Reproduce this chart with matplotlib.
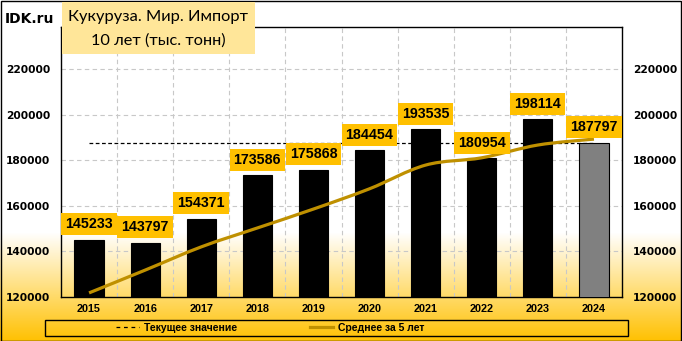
import matplotlib.pyplot as plt
from matplotlib.lines import Line2D
from matplotlib.patches import Rectangle, PathPatch
from matplotlib.path import Path
import numpy as np

years = ['2015', '2016', '2017', '2018', '2019', '2020', '2021', '2022', '2023', '2024']
imports = [145233, 143797, 154371, 173586, 175868, 184454, 193535, 180954, 198114, 187797]
avg_5y = [121800, 131800, 142000, 150300, 158600, 167500, 177900, 181100, 186700, 189300]
current = 187797

W, H = 682, 341
fig = plt.figure(figsize=(W / 100, H / 100), dpi=100)

# background gradient: white on top, gold at the bottom
bg = fig.add_axes([0, 0, 1, 1], zorder=-10)
rows = np.arange(H)
t = np.clip((rows - 232) / (H - 232), 0, 1)
gold = np.array([1.0, 0.755, 0.0])
grad = (1 - t)[:, None] * np.ones(3) + t[:, None] * gold
bg.imshow(grad[:, None, :], aspect='auto', extent=[0, 1, 0, 1])
bg.set_xlim(0, 1)
bg.set_ylim(0, 1)
bg.axis('off')
fig.patches.append(Rectangle((0.5 / W, 0.5 / H), 1 - 1.5 / W, 1 - 1.5 / H, transform=fig.transFigure,
                             fill=False, edgecolor='black', linewidth=1))


def smooth_path(xs, ys):
    """Excel-like smoothed line: cubic bezier through the points (Catmull-Rom tangents)."""
    pts = np.column_stack([xs, ys]).astype(float)
    verts = [pts[0]]
    codes = [Path.MOVETO]
    for i in range(len(pts) - 1):
        p0 = pts[max(i - 1, 0)]
        p1, p2 = pts[i], pts[i + 1]
        p3 = pts[min(i + 2, len(pts) - 1)]
        verts += [p1 + (p2 - p0) / 6, p2 - (p3 - p1) / 6, p2]
        codes += [Path.CURVE4] * 3
    return Path(verts, codes)


ax = fig.add_axes([61 / W, (H - 297) / H, (622 - 61) / W, (297 - 27) / H])
ax.set_facecolor('none')
x = np.arange(len(years))
colors = ['black'] * (len(years) - 1) + ['#808080']
ax.bar(x, imports, width=0.52, color=colors, edgecolor='black', linewidth=0.8, zorder=3)
ax.add_patch(PathPatch(smooth_path(x, avg_5y), facecolor='none', edgecolor='#BF9000', linewidth=2.3,
                       capstyle='butt', zorder=4))
ax.hlines(current, x[0], x[-1], colors='black', linestyles=(0, (3, 2)), linewidth=0.9, zorder=2)

for xi, v in zip(x, imports):
    ax.annotate(f'{v}', (xi, v), xytext=(0, 6), textcoords='offset points', ha='center', va='bottom',
                fontsize=10.3, fontweight='bold', family='Liberation Sans', zorder=6,
                bbox=dict(boxstyle='square,pad=0.28', facecolor='#FFC000', edgecolor='none'))

ax.set_xlim(-0.5, len(years) - 0.5)
ax.set_ylim(120000, 238500)
ax.set_yticks(range(120000, 230000, 20000))
ax.set_xticks(x)
ax.set_xticklabels(years, fontsize=7.8, family='Liberation Sans', fontweight='bold')
ax.tick_params(axis='both', length=0)
ax.tick_params(axis='y', labelright=True, right=False, pad=8)
ax.tick_params(axis='x', pad=5)
for lbl in ax.get_yticklabels():
    lbl.set_fontweight('bold')
    lbl.set_fontsize(7.7)
ax.yaxis.grid(True, color='#C8C8C8', linestyle=(0, (4, 3)), linewidth=0.8, zorder=0)
ax.set_xticks(np.arange(0.5, len(years) - 0.5), minor=True)
ax.tick_params(axis='x', which='minor', length=0)
ax.xaxis.grid(True, which='minor', color='#C8C8C8', linestyle=(0, (4, 3)), linewidth=0.8, zorder=0)
for s in ax.spines.values():
    s.set_linewidth(1)
    s.set_color('black')

# title block
fig.patches.append(Rectangle((62 / W, (H - 54) / H), 193 / W, 52 / H, transform=fig.transFigure,
                             facecolor='#FFE699', edgecolor='none', zorder=5))
fig.text(5 / W, (H - 19) / H, 'IDK.ru', fontsize=10, fontweight='bold', va='center', ha='left')
fig.text(158 / W, (H - 17) / H, 'Кукуруза. Мир. Импорт', fontsize=11.8, family='Lato', va='center', ha='center', zorder=6)
fig.text(158 / W, (H - 41) / H, '10 лет (тыс. тонн)', fontsize=11.8, family='Lato', va='center', ha='center', zorder=6)

# legend
fig.patches.append(Rectangle((45 / W, (H - 336) / H), 583 / W, 16 / H, transform=fig.transFigure,
                             fill=False, edgecolor='black', linewidth=1))
handles = [Line2D([], [], color='black', linestyle=(0, (3, 3)), linewidth=0.9),
           Line2D([], [], color='#BF9000', linewidth=2.3)]
fig.legend(handles, ['Текущее значение', 'Среднее за 5 лет'], loc='center', bbox_to_anchor=(270 / W, (H - 328) / H),
           ncol=2, frameon=False, handlelength=2.2, handletextpad=0.5, columnspacing=7.0,
           prop=dict(family='Liberation Sans', weight='bold', size=7.5))

fig.savefig('out.png', dpi=100)
